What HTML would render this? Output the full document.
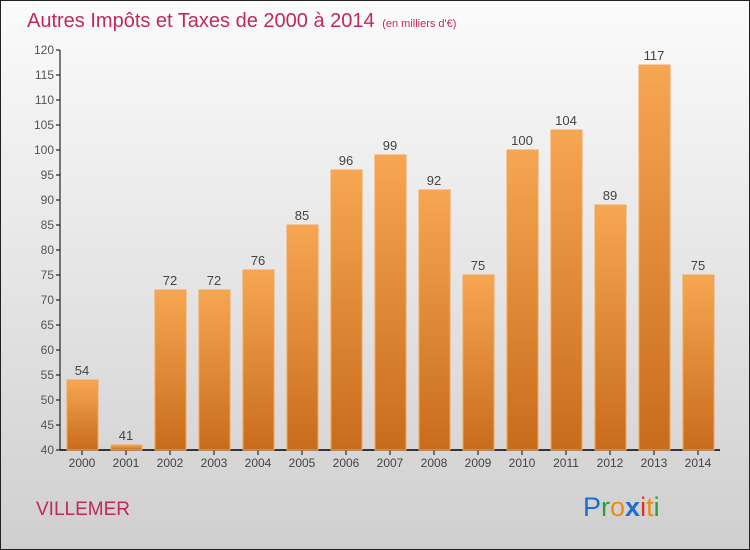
<!DOCTYPE html>
<html><head><meta charset="utf-8"><style>
body{margin:0;width:750px;height:550px;overflow:hidden}
svg{display:block}
text{font-family:"Liberation Sans",sans-serif}
</style></head><body>
<svg id="chart" width="750" height="550" xmlns="http://www.w3.org/2000/svg">
<defs>
<linearGradient id="bg" x1="0" y1="0" x2="0" y2="1"><stop offset="0" stop-color="#fbfbfb"/><stop offset="1" stop-color="#cfcfcf"/></linearGradient>
<linearGradient id="bar" x1="0" y1="0" x2="0" y2="1"><stop offset="0" stop-color="#f7a652"/><stop offset="1" stop-color="#c86c1c"/></linearGradient>
</defs>
<rect x="0.5" y="0.5" width="749" height="549" fill="url(#bg)" stroke="#222"/>
<text x="27" y="27" font-size="20" fill="#c2295b">Autres Impôts et Taxes de 2000 à 2014 <tspan font-size="11" dx="2">(en milliers d'€)</tspan></text>
<text x="36" y="515" font-size="19" fill="#c2295b">VILLEMER</text>
<g font-size="27">
<text x="583" y="516" fill="#1a6fd0">P<tspan fill="#2aa040">r</tspan><tspan fill="#f08a10">o</tspan><tspan fill="#1a6fd0" font-weight="bold">x</tspan><tspan fill="#e03020">i</tspan><tspan fill="#f08a10">t</tspan><tspan fill="#2aa040">i</tspan></text>
</g>
<g id="axes"></g>
<g id="bars"></g>
</svg>
<script>
const years=["2000","2001","2002","2003","2004","2005","2006","2007","2008","2009","2010","2011","2012","2013","2014"];
const values=[54,41,72,72,76,85,96,99,92,75,100,104,89,117,75];
const yTicks=[40,45,50,55,60,65,70,75,80,85,90,95,100,105,110,115,120];
const NS="http://www.w3.org/2000/svg";
const y=v=>450-(v-40)*5;
const x=i=>82+i*44;
function mk(t,a,p){const e=document.createElementNS(NS,t);for(const k in a)e.setAttribute(k,a[k]);p.appendChild(e);return e;}
const ax=document.getElementById('axes'),bg=document.getElementById('bars');
let l=mk('line',{x1:60,y1:50,x2:60,y2:450,stroke:'#000'},ax);


l=mk('line',{x1:60,y1:450,x2:720,y2:450,stroke:'#000','stroke-width':1.5},ax);


yTicks.forEach(v=>{
 mk('line',{x1:56,x2:60,y1:y(v),y2:y(v),stroke:'#000'},ax);
 const t=mk('text',{x:54,y:y(v)+4,'text-anchor':'end','font-size':12,fill:'#555'},ax);t.textContent=v;
 
 
});
years.forEach((yr,i)=>{
 const v=values[i];
 const r=mk('rect',{x:x(i)-15,y:y(v),width:31,height:450-y(v),fill:'url(#bar)',stroke:'#f6a455','stroke-width':1},bg);
 
 
 mk('line',{x1:x(i),x2:x(i),y1:450,y2:455,stroke:'#000'},ax);
 const t=mk('text',{x:x(i),y:467,'text-anchor':'middle','font-size':12,fill:'#444'},ax);t.textContent=yr;
 
 
 const lb=mk('text',{x:x(i),y:y(v)-5,'text-anchor':'middle','font-size':13,fill:'#444'},bg);lb.textContent=v;
 
 
});
</script>
</body></html>
